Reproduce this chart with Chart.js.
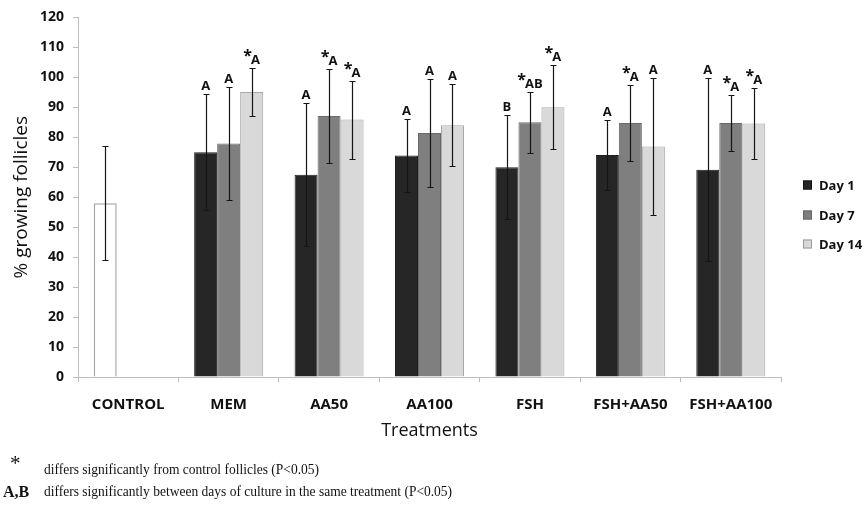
<!DOCTYPE html>
<html>
<head>
<meta charset="utf-8">
<title>% growing follicles by treatment</title>
<script src="https://cdn.jsdelivr.net/npm/chart.js@4.4.1/dist/chart.umd.min.js"></script>
<style>
  html, body { margin: 0; padding: 0; background: #fff; }
  #wrap { position: relative; width: 866px; height: 517px; overflow: hidden; }
  #c { position: absolute; left: 0; top: 0; }
  .note {
    position: absolute;
    font-family: "Liberation Serif", "Times New Roman", serif;
    font-size: 15px;
    line-height: 17px;
    color: #111;
    white-space: nowrap;
    transform-origin: 0 50%;
  }
  .squeeze { transform: scaleX(0.9); }
</style>
</head>
<body>
<div id="wrap">
  <canvas id="c" width="866" height="517"></canvas>
  <div class="note" style="left:10px; top:453px; font-size:21px; line-height:21px;">*</div>
  <div class="note squeeze" style="left:44px; top:461px;">differs significantly from control follicles (P&lt;0.05)</div>
  <div class="note" style="left:3px; top:483px; font-weight:bold; font-size:16px;">A,B</div>
  <div class="note squeeze" style="left:44px; top:483px;">differs significantly between days of culture in the same treatment (P&lt;0.05)</div>
</div>
<script>
// Treatments on the x axis
const categories = ['CONTROL', 'MEM', 'AA50', 'AA100', 'FSH', 'FSH+AA50', 'FSH+AA100'];
const seriesNames = ['Day 1', 'Day 7', 'Day 14'];

// Mean % growing follicles (the control sits in the Day 1 slot)
const day1 = [58, 75, 67.5, 73.9, 70, 74.1, 69.2];
const day7 = [null, 77.9, 87.1, 81.4, 85, 84.8, 84.8];
const day14 = [null, 95.1, 85.9, 84, 90, 76.9, 84.6];

// Error bar half-lengths
const day1Err = [19, 19.3, 23.9, 12.3, 17.4, 11.8, 30.5];
const day7Err = [null, 18.9, 15.7, 18, 10.1, 12.8, 9.4];
const day14Err = [null, 8, 13, 13.7, 14, 22.9, 11.9];

// Significance marks printed above each error bar
const day1Marks = ['', 'A', 'A', 'A', 'B', 'A', 'A'];
const day7Marks = ['', 'A', '*A', 'A', '*AB', '*A', '*A'];
const day14Marks = ['', '*A', '*A', 'A', '*A', 'A', '*A'];

// Y axis range
const yMin = 0, yMax = 120, yStep = 10;

const TEXT = '#111111';
const AXIS = '#bdbdbd';
const FAMILY = '"Open Sans", "Liberation Sans", Arial, sans-serif';

const fills = ['#262626', '#7f7f7f', '#d9d9d9'];
const edges = ['#1e1e1e', '#6a6a6a', '#a8a8a8'];

const datasets = [
  {
    label: seriesNames[0],
    data: day1,
    errors: day1Err,
    marks: day1Marks,
    swatch: fills[0],
    swatchEdge: '#111',
    backgroundColor: categories.map((c, i) => i === 0 ? '#ffffff' : fills[0]),
    borderColor: categories.map((c, i) => i === 0 ? '#a6a6a6' : edges[0]),
    borderWidth: categories.map((c, i) => i === 0 ? 1.5 : 1)
  },
  {
    label: seriesNames[1],
    data: day7,
    errors: day7Err,
    marks: day7Marks,
    swatch: fills[1],
    swatchEdge: '#666',
    backgroundColor: fills[1],
    borderColor: edges[1],
    borderWidth: 1
  },
  {
    label: seriesNames[2],
    data: day14,
    errors: day14Err,
    marks: day14Marks,
    swatch: fills[2],
    swatchEdge: '#999',
    backgroundColor: fills[2],
    borderColor: edges[2],
    borderWidth: 1
  }
];

// Whiskers with caps, plus the significance letters over them
const errorBars = {
  id: 'errorBars',
  afterDatasetsDraw(chart) {
    const { ctx } = chart;
    const y = chart.scales.y;
    ctx.save();
    chart.data.datasets.forEach((ds, di) => {
      const meta = chart.getDatasetMeta(di);
      meta.data.forEach((bar, i) => {
        const v = ds.data[i], e = ds.errors[i];
        if (v == null || e == null) return;
        const x = Math.round(bar.x) + 0.5;
        const yt = Math.round(y.getPixelForValue(v + e)) + 0.5;
        const yb = Math.round(y.getPixelForValue(v - e)) + 0.5;
        ctx.strokeStyle = '#151515';
        ctx.lineWidth = 1.2;
        ctx.beginPath();
        ctx.moveTo(x, yt); ctx.lineTo(x, yb);
        ctx.moveTo(x - 3, yt); ctx.lineTo(x + 3, yt);
        ctx.moveTo(x - 3, yb); ctx.lineTo(x + 3, yb);
        ctx.stroke();

        const mark = ds.marks[i];
        if (!mark) return;
        const base = yt - 5;
        ctx.fillStyle = TEXT;
        ctx.textBaseline = 'alphabetic';
        ctx.textAlign = 'left';
        const star = mark.startsWith('*');
        const rest = star ? mark.slice(1) : mark;
        ctx.font = 'bold 13px ' + FAMILY;
        const wRest = ctx.measureText(rest).width;
        ctx.font = 'bold 16px ' + FAMILY;
        const wStar = star ? ctx.measureText('*').width - 1 : 0;
        const start = bar.x - (wStar + wRest) / 2;
        if (star) ctx.fillText('*', start, base - 3);
        ctx.font = 'bold 13px ' + FAMILY;
        ctx.fillText(rest, start + wStar, base);
      });
    });
    ctx.restore();
  }
};

// Legend stacked at the right of the plot
const sideLegend = {
  id: 'sideLegend',
  afterDraw(chart) {
    const { ctx, chartArea } = chart;
    const x0 = chartArea.right + 22;
    const y0 = chartArea.top + 168;
    const gap = 29.3;
    ctx.save();
    ctx.font = 'bold 13px ' + FAMILY;
    ctx.textBaseline = 'middle';
    ctx.textAlign = 'left';
    chart.data.datasets.forEach((ds, i) => {
      const cy = Math.round(y0 + i * gap);
      ctx.fillStyle = ds.swatch;
      ctx.fillRect(x0, cy - 4.5, 9, 9);
      ctx.strokeStyle = ds.swatchEdge;
      ctx.lineWidth = 1;
      ctx.strokeRect(x0 + 0.5, cy - 4, 8, 8);
      ctx.fillStyle = TEXT;
      ctx.fillText(ds.label, x0 + 16, cy + 1);
    });
    ctx.restore();
  }
};

new Chart(document.getElementById('c'), {
  type: 'bar',
  data: { labels: categories, datasets },
  plugins: [errorBars, sideLegend],
  options: {
    responsive: false,
    animation: false,
    devicePixelRatio: 1,
    layout: { padding: { left: 0, top: 17, right: 85, bottom: 65 } },
    datasets: {
      bar: { categoryPercentage: 0.687, barPercentage: 1.0 }
    },
    plugins: {
      legend: { display: false },
      tooltip: { enabled: false }
    },
    scales: {
      x: {
        afterFit(scale) { scale.height = 75; },
        grid: {
          display: true,
          drawOnChartArea: false,
          drawTicks: true,
          tickLength: 5,
          color: AXIS,
          offset: true
        },
        border: { display: true, color: AXIS, width: 1 },
        ticks: {
          autoSkip: false,
          maxRotation: 0,
          padding: 14,
          color: TEXT,
          font: { family: FAMILY, size: 15, weight: 'bold' }
        },
        title: {
          display: true,
          text: 'Treatments',
          color: TEXT,
          font: { family: FAMILY, size: 18, weight: 'normal' },
          padding: { top: 0, bottom: 10 }
        }
      },
      y: {
        min: yMin,
        max: yMax,
        afterFit(scale) { scale.width = 78; },
        grid: {
          display: true,
          drawOnChartArea: false,
          drawTicks: true,
          tickLength: 5,
          color: AXIS
        },
        border: { display: true, color: AXIS, width: 1 },
        ticks: {
          stepSize: yStep,
          padding: 9,
          color: TEXT,
          font: { family: FAMILY, size: 14, weight: 'bold' }
        },
        title: {
          display: true,
          text: '% growing follicles',
          color: TEXT,
          font: { family: FAMILY, size: 19, weight: 'normal' },
          padding: { top: 10.5, bottom: 0 }
        }
      }
    }
  }
});
</script>
</body>
</html>
